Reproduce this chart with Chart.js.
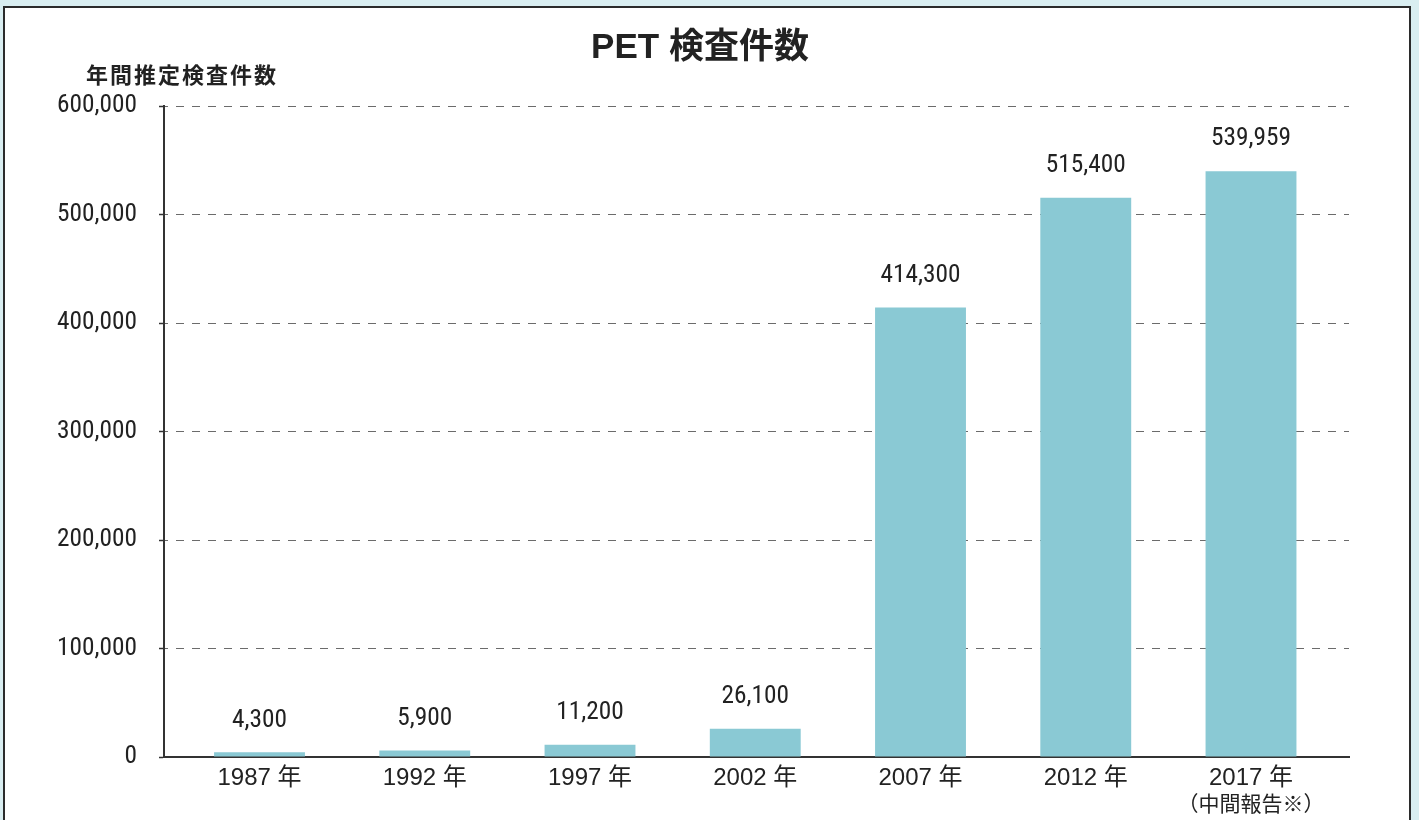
<!DOCTYPE html>
<html lang="ja">
<head>
<meta charset="utf-8">
<title>PET 検査件数</title>
<script src="https://cdn.jsdelivr.net/npm/chart.js@4.4.1/dist/chart.umd.min.js"></script>
<style>
  html, body { margin: 0; padding: 0; }
  body { width: 1419px; height: 820px; background: #d9eef1; position: relative; overflow: hidden; }
  #panel { position: absolute; left: 3px; top: 6px; width: 1408px; height: 900px; box-sizing: border-box;
           border: 2px solid #2b2b2b; background: #ffffff; }
  #c { position: absolute; left: 0; top: 0; }
</style>
</head>
<body>
<div id="panel"></div>
<canvas id="c" width="1419" height="820"></canvas>
<script>
// ---- data ----
const chartTitle = "PET 検査件数";
const yAxisTitle = "年間推定検査件数";
const categories = ["1987 年", "1992 年", "1997 年", "2002 年", "2007 年", "2012 年", "2017 年"];
const categoryNotes = ["", "", "", "", "", "", "（中間報告※）"];
const inspections = [4300, 5900, 11200, 26100, 414300, 515400, 539959];
const yTicks = [0, 100000, 200000, 300000, 400000, 500000, 600000];

// ---- styles ----
const SANS = "'Liberation Sans', 'Noto Sans CJK JP', sans-serif";
const BAR = "#8ac9d4";
const INK = "#222222";
const fmt = v => Number(v).toLocaleString('en-US');

// pick a condensed face if one is installed, else use Liberation Sans with tight tracking
function pickNumberFont() {
  const ctx = document.createElement('canvas').getContext('2d');
  const s = '600,000';
  const m = f => { ctx.font = '30px monospace'; ctx.font = f; return ctx.measureText(s).width; };
  const base = m('26px monospace');
  const named = ["Liberation Sans Narrow", "Roboto Condensed", "Arial Narrow", "Nimbus Sans Narrow",
                 "Noto Sans Condensed", "Open Sans Condensed"];
  for (const f of named) {
    const w = m(`26px '${f}', monospace`);
    if (Math.abs(w - base) > 0.5 && w < 90) {
      return { family: `'${f}', 'Noto Sans CJK JP', sans-serif`, weight: 'normal', size: Math.min(28, 26 * 80 / w), spacing: 0 };
    }
  }
  for (const f of ["Roboto", "Noto Sans", "Open Sans", "Inter"]) {
    const n = m(`26px '${f}'`), c = m(`normal condensed 26px '${f}'`);
    if (c < n * 0.9 && c < 92) {
      return { family: `'${f}', 'Noto Sans CJK JP', sans-serif`, weight: 'normal condensed', size: Math.min(28, 26 * 80 / c), spacing: 0 };
    }
  }
  return { family: SANS, weight: 'normal', size: 24, spacing: -1 };
}
const NUM = pickNumberFont();

const yTitlePlugin = {
  id: 'yTitle',
  afterDraw(chart) {
    const ctx = chart.ctx;
    ctx.save();
    ctx.font = "bold 22px 'Noto Sans CJK JP', sans-serif";
    if ('letterSpacing' in ctx) ctx.letterSpacing = '2px';
    ctx.fillStyle = INK;
    ctx.textAlign = 'left';
    ctx.textBaseline = 'middle';
    ctx.fillText(yAxisTitle, 86, 75);
    ctx.restore();
  }
};

const barLabelPlugin = {
  id: 'barLabels',
  afterDatasetsDraw(chart) {
    const ctx = chart.ctx;
    const meta = chart.getDatasetMeta(0);
    ctx.save();
    ctx.font = `${NUM.weight} ${NUM.size}px ${NUM.family}`;
    if ('letterSpacing' in ctx) ctx.letterSpacing = NUM.spacing + 'px';
    ctx.fillStyle = INK;
    ctx.textAlign = 'center';
    ctx.textBaseline = 'middle';
    meta.data.forEach((bar, i) => {
      ctx.fillText(fmt(inspections[i]), bar.x, bar.y - 32);
    });
    ctx.restore();
  }
};

const notePlugin = {
  id: 'notes',
  afterDraw(chart) {
    const ctx = chart.ctx;
    const xs = chart.scales.x;
    ctx.save();
    ctx.font = "21px 'Noto Sans CJK JP', sans-serif";
    ctx.fillStyle = INK;
    ctx.textAlign = 'center';
    ctx.textBaseline = 'middle';
    categoryNotes.forEach((n, i) => {
      if (n) ctx.fillText(n, xs.getPixelForValue(i), 803);
    });
    ctx.restore();
  }
};

new Chart(document.getElementById('c'), {
  type: 'bar',
  data: {
    datasets: [{
      data: inspections.map((v, i) => ({ x: i, y: v })),
      backgroundColor: BAR,
      borderWidth: 0,
      categoryPercentage: 1,
      barPercentage: 0.55
    }]
  },
  options: {
    responsive: false,
    devicePixelRatio: 1,
    animation: false,
    layout: { padding: { left: 51, right: 70, top: 0, bottom: 0 } },
    plugins: {
      legend: { display: false },
      tooltip: { enabled: false },
      title: {
        display: true,
        text: chartTitle,
        color: INK,
        font: { family: SANS, size: 35, weight: 'bold', lineHeight: 1.2 },
        padding: { top: 27, bottom: 37 }
      }
    },
    scales: {
      x: {
        type: 'linear',
        min: -0.578,
        max: 6.593,
        offset: false,
        afterBuildTicks(scale) { scale.ticks = categories.map((_, i) => ({ value: i })); },
        afterFit(scale) { scale.height = 63; },
        grid: { display: false, drawTicks: false },
        border: { display: true, color: '#333333', width: 2 },
        ticks: {
          autoSkip: false,
          maxRotation: 0,
          padding: 7,
          color: INK,
          font: { family: SANS, size: 24, lineHeight: 1.2 },
          callback: (v) => categories[v] !== undefined ? categories[v] : ''
        }
      },
      y: {
        min: 0,
        max: 600000,
        afterBuildTicks(scale) { scale.ticks = yTicks.map(v => ({ value: v })); },
        afterFit(scale) { scale.width = 113; },
        afterUpdate(scale) {
          if (scale._lsWrapped || !NUM.spacing) return;
          const orig = scale.drawLabels;
          scale.drawLabels = function (area) {
            const ctx = this.ctx;
            ctx.save();
            if ('letterSpacing' in ctx) ctx.letterSpacing = NUM.spacing + 'px';
            orig.call(this, area);
            ctx.restore();
          };
          scale._lsWrapped = true;
        },
        grid: {
          color: '#6b6b6b',
          lineWidth: 1,
          tickLength: 5,
          tickColor: '#333333',
          tickWidth: 1.5,
          tickBorderDash: []
        },
        border: { display: true, color: '#333333', width: 2, dash: [8, 8], dashOffset: 5 },
        ticks: {
          padding: 22,
          color: INK,
          font: { family: NUM.family, size: NUM.size, weight: NUM.weight },
          callback: v => fmt(v)
        }
      }
    }
  },
  plugins: [yTitlePlugin, barLabelPlugin, notePlugin]
});
</script>
</body>
</html>
